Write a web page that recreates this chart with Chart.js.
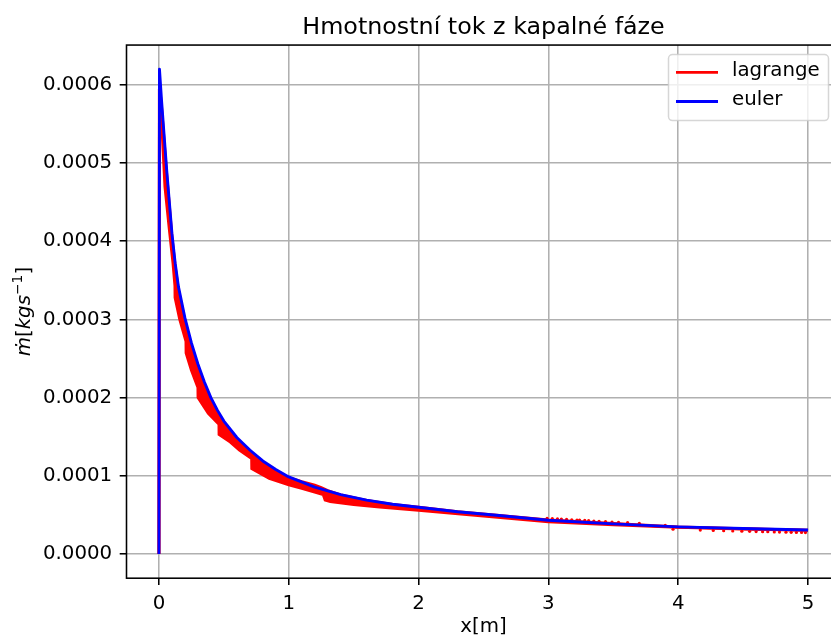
<!DOCTYPE html>
<html>
<head>
<meta charset="utf-8">
<title>Hmotnostní tok z kapalné fáze</title>
<script src="https://cdn.jsdelivr.net/npm/chart.js@4.4.0/dist/chart.umd.min.js"></script>
<style>
  html, body { margin: 0; padding: 0; background: #fff; overflow: hidden; }
  #wrap { width: 831px; height: 638px; overflow: hidden; }
</style>
</head>
<body>
<div id="wrap"><canvas id="chart" width="850" height="638" style="width:850px;height:638px"></canvas></div>
<script>
// series names and ticks
const seriesNames = ['lagrange', 'euler'];
const xTicks = [0, 1, 2, 3, 4, 5];
const yTicks = [0, 0.0001, 0.0002, 0.0003, 0.0004, 0.0005, 0.0006];

// euler (blue)
const eulerX = [0, 0.004, 0.02, 0.04, 0.06, 0.08, 0.10, 0.125, 0.15, 0.2, 0.25, 0.3, 0.35, 0.4, 0.45, 0.5,
  0.6, 0.7, 0.8, 0.9, 1.0, 1.2, 1.4, 1.6, 1.8, 2.0, 2.3, 2.6, 3.0, 3.5, 4.0, 4.5, 5.0];
const eulerY = [0, 0.000620, 0.000580, 0.000535, 0.000490, 0.000450, 0.000410, 0.000372, 0.000342, 0.000302,
  0.000270, 0.000243, 0.000220, 0.000200, 0.000184, 0.000170, 0.000149, 0.000133, 0.000119, 0.000108,
  0.0000985, 0.0000855, 0.0000760, 0.0000688, 0.0000636, 0.0000597, 0.0000540, 0.0000495, 0.0000432,
  0.0000385, 0.0000347, 0.0000325, 0.0000307];

// lagrange (red) - upper edge of the noisy band
const lagrangeX = [0, 0.004, 0.02, 0.04, 0.06, 0.08, 0.10, 0.125, 0.15, 0.2, 0.25, 0.3, 0.35, 0.4, 0.45, 0.5,
  0.6, 0.7, 0.8, 0.9, 1.0, 1.1, 1.2, 1.25, 1.3, 1.4, 1.6, 1.8, 2.0, 2.3, 2.6, 3.0, 3.5, 4.0, 4.5, 5.0];
const lagrangeY = [0, 0.000600, 0.000572, 0.000528, 0.000485, 0.000446, 0.000406, 0.000368, 0.000338, 0.000298,
  0.000266, 0.000240, 0.000217, 0.000197, 0.000181, 0.000167, 0.000146, 0.000132, 0.000117, 0.000106,
  0.0000975, 0.0000925, 0.0000880, 0.0000850, 0.0000810, 0.0000755, 0.0000685, 0.0000635, 0.0000597,
  0.0000542, 0.0000497, 0.0000436, 0.0000390, 0.0000345, 0.0000323, 0.0000305];

// lagrange - lower edge (with the jumps)
const lagrangeLowX = [0, 0.003, 0.02, 0.046, 0.08, 0.108, 0.123, 0.124, 0.16, 0.208, 0.209, 0.25, 0.30, 0.301,
  0.38, 0.462, 0.463, 0.55, 0.62, 0.714, 0.715, 0.85, 1.0, 1.1, 1.2, 1.265, 1.28, 1.32, 1.5, 1.7, 2.0, 2.5,
  3.0, 3.5, 4.0, 4.5, 5.0];
const lagrangeLowY = [0, 0.000595, 0.000555, 0.000470, 0.000415, 0.000372, 0.000343, 0.000328, 0.000300,
  0.000272, 0.000257, 0.000235, 0.000213, 0.000200, 0.000180, 0.000166, 0.000153, 0.000143, 0.000133,
  0.000122, 0.000109, 0.0000965, 0.0000885, 0.0000840, 0.0000790, 0.0000760, 0.0000690, 0.0000670,
  0.0000633, 0.0000600, 0.0000560, 0.0000485, 0.0000412, 0.0000372, 0.0000340, 0.0000320, 0.0000302];

// lagrange - isolated points sticking out in the tail
const lagrangeDotX = [2.99, 3.03, 3.07, 3.10, 3.14, 3.18, 3.22, 3.24, 3.28, 3.31, 3.35, 3.39, 3.44, 3.49, 3.54,
  3.61, 3.70, 3.90, 3.96, 4.17, 4.27, 4.35, 4.42, 4.49, 4.55, 4.60, 4.65, 4.69, 4.74, 4.78, 4.83, 4.87,
  4.91, 4.95, 4.98];
const lagrangeDotY = [0.0000456, 0.0000452, 0.0000448, 0.0000446, 0.0000442, 0.0000438, 0.0000434, 0.0000433,
  0.0000429, 0.0000426, 0.0000422, 0.0000418, 0.0000414, 0.0000409, 0.0000405, 0.0000400, 0.0000393,
  0.0000366, 0.0000316, 0.0000306, 0.0000301, 0.0000298, 0.0000294, 0.0000291, 0.0000289, 0.0000287,
  0.0000285, 0.0000284, 0.0000282, 0.0000280, 0.0000279, 0.0000277, 0.0000276, 0.0000275, 0.0000274];

const RED = '#ff0000';
const BLUE = '#0000ff';
const FS = 19.8;
const FONT = '"DejaVu Sans", sans-serif';

const pts = (xs, ys) => xs.map((x, i) => ({x: x, y: ys[i]}));

// top/right spines
const framePlugin = {
    id: 'frame',
    afterDatasetsDraw(chart) {
        const a = chart.chartArea, ctx = chart.ctx;
        ctx.save();
        ctx.strokeStyle = '#000';
        ctx.lineWidth = 1.56;
        ctx.strokeRect(a.left, a.top, a.right - a.left, a.bottom - a.top);
        ctx.restore();
    }
};

// y label  m-dot[kg s^-1] in mathtext style
const yLabelPlugin = {
    id: 'yLabel',
    afterDraw(chart) {
        const a = chart.chartArea, ctx = chart.ctx;
        const parts = [
            ['ṁ', 'italic', FS, 0],
            ['[', 'normal', FS, 0],
            ['kgs', 'italic', FS, 0],
            ['−1', 'normal', FS * 0.7, -8],
            [']', 'normal', FS, 0]
        ];
        ctx.save();
        let total = 0;
        parts.forEach(p => {
            ctx.font = p[1] + ' ' + p[2] + 'px ' + FONT;
            p.push(ctx.measureText(p[0]).width);
            total += p[4];
        });
        ctx.translate(30, (a.top + a.bottom) / 2);
        ctx.rotate(-Math.PI / 2);
        ctx.fillStyle = '#000';
        ctx.textBaseline = 'alphabetic';
        ctx.textAlign = 'left';
        let x = -total / 2;
        parts.forEach(p => {
            ctx.font = p[1] + ' ' + p[2] + 'px ' + FONT;
            ctx.fillText(p[0], x, p[3]);
            x += p[4];
        });
        ctx.restore();
    }
};

// matplotlib-like legend in the upper right corner
const legendPlugin = {
    id: 'boxLegend',
    afterDraw(chart) {
        const a = chart.chartArea, ctx = chart.ctx;
        const w = 160, h = 66;
        const left = a.right - 12 - w, top = a.top + 9.5;
        const r = 4;
        ctx.save();
        ctx.beginPath();
        ctx.moveTo(left + r, top);
        ctx.arcTo(left + w, top, left + w, top + h, r);
        ctx.arcTo(left + w, top + h, left, top + h, r);
        ctx.arcTo(left, top + h, left, top, r);
        ctx.arcTo(left, top, left + w, top, r);
        ctx.closePath();
        ctx.fillStyle = 'rgba(255,255,255,0.8)';
        ctx.fill();
        ctx.strokeStyle = 'rgba(204,204,204,0.8)';
        ctx.lineWidth = 1.5;
        ctx.stroke();

        const colors = [RED, BLUE];
        const rows = [top + 17.8, top + 47];
        ctx.font = FS + 'px ' + FONT;
        ctx.textBaseline = 'middle';
        ctx.textAlign = 'left';
        seriesNames.forEach((name, i) => {
            ctx.strokeStyle = colors[i];
            ctx.lineWidth = 2.9;
            ctx.lineCap = 'butt';
            ctx.beginPath();
            ctx.moveTo(left + 7.5, rows[i]);
            ctx.lineTo(left + 49.5, rows[i]);
            ctx.stroke();
            ctx.fillStyle = '#000';
            ctx.fillText(name, left + 63.5, rows[i] - 1.2);
        });
        ctx.restore();
    }
};

const gridOpts = {
    color: '#b0b0b0',
    lineWidth: 1.56,
    drawTicks: true,
    tickLength: 6.8,
    tickColor: '#000',
    tickWidth: 1.56
};

const chart = new Chart(document.getElementById('chart'), {
    type: 'scatter',
    data: {
        datasets: [
            {
                label: seriesNames[0],
                data: pts(lagrangeX, lagrangeY),
                showLine: true,
                borderColor: RED,
                backgroundColor: RED,
                borderWidth: 2.9,
                pointRadius: 0,
                fill: '+1',
                order: 1
            },
            {
                label: seriesNames[0] + ' (low)',
                data: pts(lagrangeLowX, lagrangeLowY),
                showLine: true,
                borderColor: RED,
                borderWidth: 2.9,
                pointRadius: 0,
                fill: false,
                order: 1
            },
            {
                label: seriesNames[0] + ' (pts)',
                data: pts(lagrangeDotX, lagrangeDotY),
                showLine: false,
                pointRadius: 1.6,
                pointBorderWidth: 0,
                pointBackgroundColor: RED,
                order: 1
            },
            {
                label: seriesNames[1],
                data: pts(eulerX, eulerY),
                showLine: true,
                borderColor: BLUE,
                borderWidth: 2.9,
                pointRadius: 0,
                borderJoinStyle: 'round',
                fill: false,
                order: 0
            }
        ]
    },
    options: {
        responsive: false,
        animation: false,
        devicePixelRatio: 1,
        layout: { padding: { left: 0, right: 9.5, top: 0, bottom: 0 } },
        plugins: {
            legend: { display: false },
            tooltip: { enabled: false },
            title: {
                display: true,
                text: 'Hmotnostní tok z kapalné fáze',
                fullSize: false,
                color: '#000',
                font: { family: FONT, size: 23.8, weight: 'normal', lineHeight: 1.2 },
                padding: { top: 13.5, bottom: 3 }
            }
        },
        scales: {
            x: {
                type: 'linear',
                min: -0.25,
                max: 5.25,
                afterBuildTicks: s => { s.ticks = xTicks.map(v => ({value: v})); },
                afterFit: s => { s.height = 59.8; },
                grid: gridOpts,
                border: { display: false },
                ticks: {
                    color: '#000',
                    padding: 6.5,
                    maxRotation: 0,
                    font: { family: FONT, size: FS },
                    callback: v => String(v)
                },
                title: {
                    display: true,
                    text: 'x[m]',
                    color: '#000',
                    font: { family: FONT, size: FS, lineHeight: 1 },
                    padding: { top: 0, bottom: 1 }
                }
            },
            y: {
                type: 'linear',
                min: -0.000031,
                max: 0.000651,
                afterBuildTicks: s => { s.ticks = yTicks.map(v => ({value: v})); },
                afterFit: s => { s.width = 126.5; },
                grid: gridOpts,
                border: { display: false },
                ticks: {
                    color: '#000',
                    padding: 7.5,
                    font: { family: FONT, size: FS },
                    callback: v => v.toFixed(4)
                }
            }
        }
    },
    plugins: [framePlugin, yLabelPlugin, legendPlugin]
});
</script>
</body>
</html>
